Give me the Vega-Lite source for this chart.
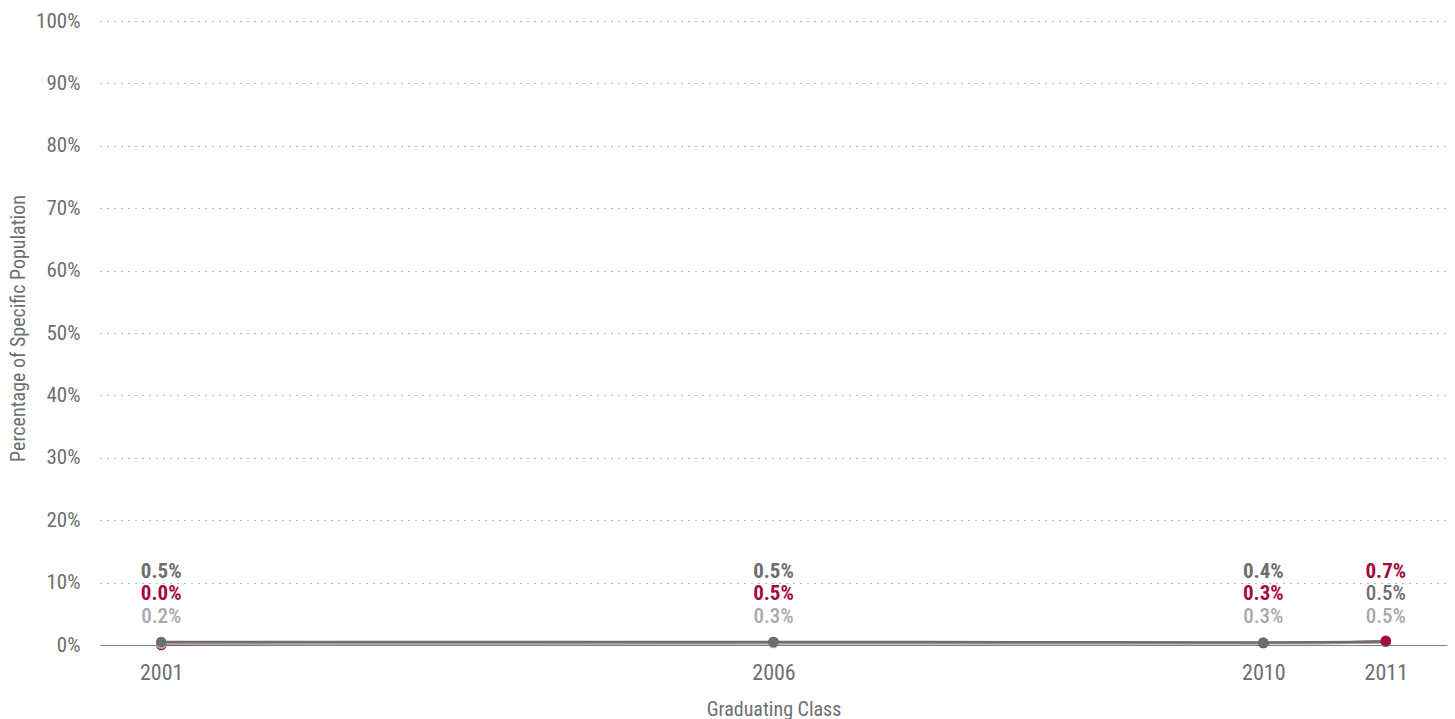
{
  "$schema": "https://vega.github.io/schema/vega-lite/v6.json",
  "width": 1347,
  "height": 624,
  "autosize": {"type": "none"},
  "padding": {"left": 100, "top": 21, "right": 8, "bottom": 74},
  "background": "#ffffff",
  "config": {
    "font": "Roboto Condensed, Liberation Sans Narrow, DejaVu Sans Condensed, sans-serif",
    "view": {"stroke": null}
  },
  "data": {
    "values": [
      {"year": 2001, "group": "light", "value": 0.002},
      {"year": 2001, "group": "red", "value": 0.000},
      {"year": 2001, "group": "dark", "value": 0.005},
      {"year": 2006, "group": "light", "value": 0.003},
      {"year": 2006, "group": "red", "value": 0.005},
      {"year": 2006, "group": "dark", "value": 0.005},
      {"year": 2010, "group": "light", "value": 0.003},
      {"year": 2010, "group": "red", "value": 0.003},
      {"year": 2010, "group": "dark", "value": 0.004},
      {"year": 2011, "group": "light", "value": 0.005},
      {"year": 2011, "group": "red", "value": 0.007},
      {"year": 2011, "group": "dark", "value": 0.005}
    ]
  },
  "transform": [
    {"joinaggregate": [{"op": "max", "field": "value", "as": "maxv"}], "groupby": ["year"]},
    {"calculate": "datum.value == datum.maxv ? 0 : 1", "as": "isTop"},
    {"calculate": "indexof(['dark','red','light'], datum.group)", "as": "ord"},
    {"window": [{"op": "row_number", "as": "rank"}], "groupby": ["year"], "sort": [{"field": "isTop", "order": "ascending"}, {"field": "ord", "order": "ascending"}]}
  ],
  "encoding": {
    "x": {
      "field": "year",
      "type": "quantitative",
      "scale": {"domain": [2000.5, 2011.5], "nice": false, "zero": false},
      "axis": {
        "values": [2001, 2006, 2010, 2011],
        "format": "d",
        "title": "Graduating Class",
        "grid": false,
        "ticks": false,
        "domainColor": "#808285",
        "domainWidth": 1.2,
        "labelFontSize": 22,
        "labelColor": "#6d6e71",
        "labelPadding": 17,
        "titleFontSize": 20,
        "titleFontWeight": "normal",
        "titleColor": "#6d6e71",
        "titlePadding": 16
      }
    },
    "color": {
      "field": "group",
      "type": "nominal",
      "scale": {"domain": ["dark", "red", "light"], "range": ["#6d6e71", "#a6093d", "#a7a9ac"]},
      "legend": null
    },
    "y": {
      "field": "value",
      "type": "quantitative",
      "scale": {"domain": [0, 1], "nice": false},
      "axis": {
        "values": [0, 0.1, 0.2, 0.3, 0.4, 0.5, 0.6, 0.7, 0.8, 0.9, 1],
        "format": ".0%",
        "title": "Percentage of Specific Population",
        "domain": false,
        "ticks": false,
        "gridColor": "#6d6e71",
        "gridDash": [1, 6],
        "gridWidth": 1,
        "labelFontSize": 21,
        "labelColor": "#6d6e71",
        "labelPadding": 20,
        "titleFontSize": 20,
        "titleFontWeight": "normal",
        "titleColor": "#6d6e71",
        "titleX": -82,
        "titleY": 307,
        "titleAlign": "center",
        "titleBaseline": "middle"
      }
    }
  },
  "layer": [
    {
      "transform": [{"filter": "datum.group == 'red'"}],
      "mark": {"type": "line", "strokeWidth": 1.5, "interpolate": "monotone"}
    },
    {
      "transform": [{"filter": "datum.group == 'light'"}],
      "mark": {"type": "line", "strokeWidth": 3, "interpolate": "monotone"}
    },
    {
      "transform": [{"filter": "datum.group == 'dark'"}],
      "mark": {"type": "line", "strokeWidth": 2.5, "interpolate": "monotone"}
    },
    {
      "mark": {"type": "point", "filled": true, "size": 110, "opacity": 1},
      "encoding": {
        "order": {"field": "value", "sort": "ascending"}
      }
    },
    {
      "transform": [{"filter": "datum.rank == 1"}],
      "mark": {"type": "text", "fontSize": 21, "fontWeight": "bold", "dy": -73, "baseline": "middle", "align": "center"},
      "encoding": {
        "y": {"datum": 0, "type": "quantitative"},
        "text": {"field": "value", "type": "quantitative", "format": ".1%"}
      }
    },
    {
      "transform": [{"filter": "datum.rank == 2 && datum.group == 'red'"}],
      "mark": {"type": "text", "fontSize": 21, "fontWeight": "bold", "dy": -51, "baseline": "middle", "align": "center"},
      "encoding": {
        "y": {"datum": 0, "type": "quantitative"},
        "text": {"field": "value", "type": "quantitative", "format": ".1%"}
      }
    },
    {
      "transform": [{"filter": "datum.rank == 2 && datum.group != 'red'"}],
      "mark": {"type": "text", "fontSize": 21, "fontWeight": 500, "dy": -51, "baseline": "middle", "align": "center"},
      "encoding": {
        "y": {"datum": 0, "type": "quantitative"},
        "text": {"field": "value", "type": "quantitative", "format": ".1%"}
      }
    },
    {
      "transform": [{"filter": "datum.rank == 3 && datum.group == 'red'"}],
      "mark": {"type": "text", "fontSize": 21, "fontWeight": "bold", "dy": -28, "baseline": "middle", "align": "center"},
      "encoding": {
        "y": {"datum": 0, "type": "quantitative"},
        "text": {"field": "value", "type": "quantitative", "format": ".1%"}
      }
    },
    {
      "transform": [{"filter": "datum.rank == 3 && datum.group != 'red'"}],
      "mark": {"type": "text", "fontSize": 21, "fontWeight": 500, "dy": -28, "baseline": "middle", "align": "center"},
      "encoding": {
        "y": {"datum": 0, "type": "quantitative"},
        "text": {"field": "value", "type": "quantitative", "format": ".1%"}
      }
    }
  ]
}
